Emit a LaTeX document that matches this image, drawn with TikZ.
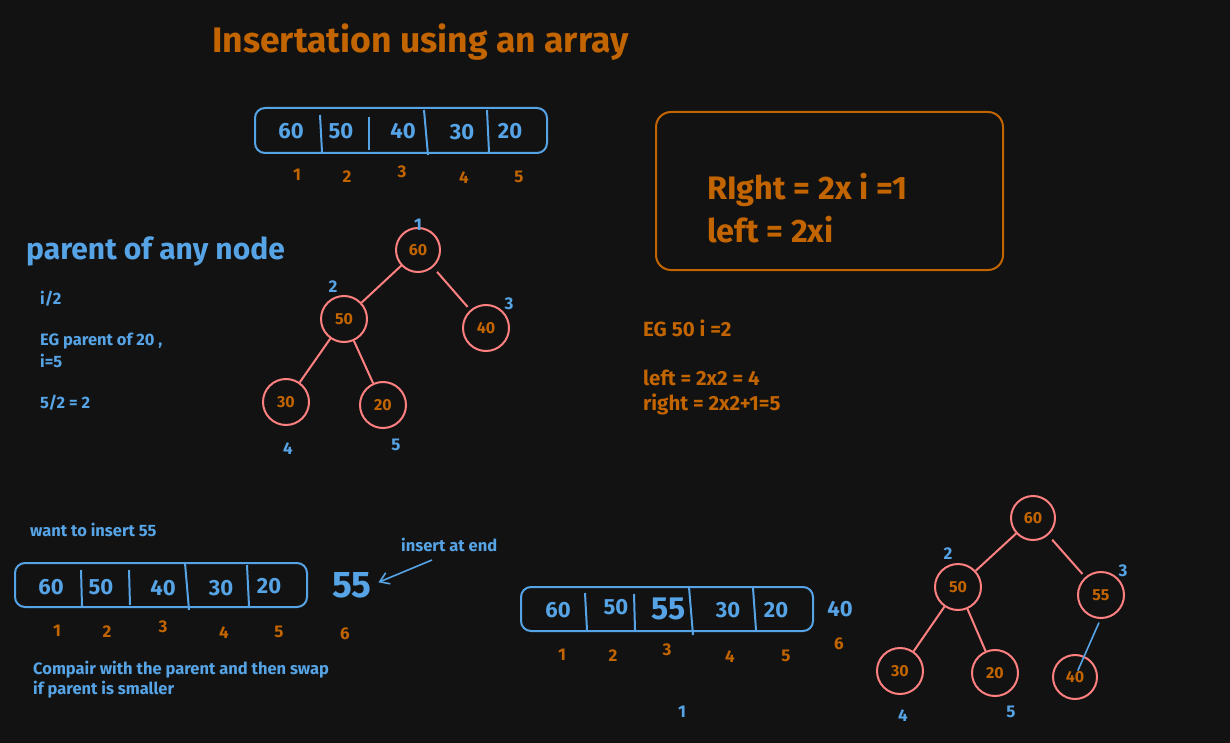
\documentclass[tikz,border=0pt]{standalone}
\usepackage{fontspec}
\setmainfont{Fira Sans}
\usetikzlibrary{arrows.meta}
\definecolor{bg}{HTML}{121212}
\definecolor{org}{HTML}{C26400}
\definecolor{blu}{HTML}{56A4E6}
\definecolor{pnk}{HTML}{FF8080}
\begin{document}
\begin{tikzpicture}[x=1pt,y=-1pt,
  every node/.style={inner sep=0pt},
  fs/.style={font=\bfseries\fontsize{#1}{#1}\selectfont},
  num/.style={fs=22,text=blu},
  idx/.style={fs=17,text=org},
  lbl/.style={fs=17,text=blu},
  txt/.style={fs=16.5,text=blu,anchor=west},
  otxt/.style={fs=20.5,text=org,anchor=west},
  arrbox/.style={draw=blu,line width=2pt,rounded corners=10pt},
  divl/.style={draw=blu,line width=2pt},
  cnode/.style={circle,draw=pnk,line width=2pt,minimum size=46pt,fs=16,text=org},
  edge/.style={draw=pnk,line width=2pt}
]
\fill[bg] (0,0) rectangle (1230,743);
\useasboundingbox (0,0) rectangle (1230,743);

% title
\node[fs=35.5,text=org,anchor=west] (title) at (212,42) {Insertation using an array};

% top array
\draw[arrbox] (255,108) rectangle (547,153);
\draw[divl] (320,115) -- (322,152);
\draw[divl] (369,117) -- (369,150);
\draw[divl] (424,110) -- (428,155);
\draw[divl] (487,110) -- (489,152);
\node[num] (a1) at (291,131) {60};
\node[num] (a2) at (341,131) {50};
\node[num] (a3) at (403,131) {40};
\node[num] (a4) at (462,132) {30};
\node[num] (a5) at (510,131) {20};
\node[idx] (i1) at (297,175) {1};
\node[idx] (i2) at (347,177) {2};
\node[idx] (i3) at (402,172) {3};
\node[idx] (i4) at (464,178) {4};
\node[idx] (i5) at (519,177) {5};

% formula box
\draw[draw=org,line width=2pt,rounded corners=15pt] (656,112) rectangle (1003,270);
\node[fs=32.5,text=org,anchor=west] (r1) at (707,190) {RIght = 2x i =1};
\node[fs=32.5,text=org,anchor=west] (r2) at (707,230) {left = 2xi};

\node[otxt] (eg) at (643,328) {EG 50 i =2};
\node[otxt] (lf) at (643,378) {left = 2x2 = 4};
\node[otxt] (rt) at (643,404) {right = 2x2+1=5};

% parent text
\node[fs=30,text=blu,anchor=west] (par) at (26,251) {parent of any node};
\node[txt] (p1) at (40,299) {i/2};
\node[txt] (p2) at (40,341) {EG parent of 20 ,};
\node[txt] (p3) at (40,361) {i=5};
\node[txt] (p4) at (40,403) {5/2 = 2};

% tree 1
\node[cnode,minimum size=44pt] (t60) at (418,250) {60};
\node[cnode] (t50) at (344,319) {50};
\node[cnode] (t40) at (486,328) {40};
\node[cnode] (t30) at (286,402) {30};
\node[cnode] (t20) at (383,405) {20};
\draw[edge] (t60) -- (t50);
\draw[edge,shorten <=6pt,shorten >=4pt] (t60) -- (t40);
\draw[edge] (t50) -- (t30);
\draw[edge] (t50) -- (t20);
\node[lbl] (l1) at (418,225) {1};
\node[lbl] (l2) at (333,287) {2};
\node[lbl] (l3) at (509,304) {3};
\node[lbl] (l4) at (288,449) {4};
\node[lbl] (l5) at (396,445) {5};

% bottom left
\node[txt] (want) at (30,530) {want to insert 55};
\draw[arrbox] (15,563) rectangle (307,607);
\draw[divl] (81,570) -- (82,606);
\draw[divl] (129,570) -- (130,605);
\draw[divl] (185,563) -- (189,610);
\draw[divl] (247,565) -- (249,606);
\node[num] (b1) at (51,587) {60};
\node[num] (b2) at (101,587) {50};
\node[num] (b3) at (163,588) {40};
\node[num] (b4) at (221,588) {30};
\node[num] (b5) at (269,586) {20};
\node[idx] (j1) at (57,631) {1};
\node[idx] (j2) at (107,632) {2};
\node[idx] (j3) at (163,627) {3};
\node[idx] (j4) at (224,633) {4};
\node[idx] (j5) at (279,632) {5};
\node[idx] (j6) at (345,634) {6};
\node[fs=37,text=blu] (b55) at (352,585) {55};
\node[txt] (ins) at (401,545) {insert at end};
\coordinate (insa) at (432,560);
\draw[blu,line width=1.6pt,shorten >=7pt,-{Straight Barb[length=9pt,width=12pt]}] (insa) -- (b55.east);
\node[txt] (c1) at (33,670) {Compair with the parent and then swap};
\node[txt] (c2) at (33,690) {if parent is smaller};

% bottom middle array
\draw[arrbox] (521,587) rectangle (813,631);
\draw[divl] (585,593) -- (587,630);
\draw[divl] (634,594) -- (635,630);
\draw[divl] (689,587) -- (693,635);
\draw[divl] (753,588) -- (756,630);
\node[num] (m1) at (558,610) {60};
\node[num] (m2) at (616,607) {50};
\node[fs=32,text=blu] (m3) at (669,609) {55};
\node[num] (m4) at (728,610) {30};
\node[num] (m5) at (776,610) {20};
\node[num] (m6) at (840,609) {40};
\node[idx] (k1) at (562,655) {1};
\node[idx] (k2) at (613,656) {2};
\node[idx] (k3) at (667,650) {3};
\node[idx] (k4) at (730,657) {4};
\node[idx] (k5) at (786,656) {5};
\node[idx] (k6) at (839,644) {6};
\node[lbl] (one) at (682,712) {1};

% tree 2
\node[cnode,minimum size=44pt] (u60) at (1033,518) {60};
\node[cnode] (u50) at (958,587) {50};
\node[cnode] (u55) at (1101,595) {55};
\node[cnode] (u30) at (900,671) {30};
\node[cnode] (u20) at (995,673) {20};
\node[cnode,minimum size=44pt] (u40) at (1075,677) {40};
\draw[edge] (u60) -- (u50);
\draw[edge,shorten <=6pt,shorten >=4pt] (u60) -- (u55);
\draw[edge] (u50) -- (u30);
\draw[edge] (u50) -- (u20);
\draw[blu,line width=1.6pt,shorten <=5pt,shorten >=7pt] (u55.center) ++(0,23) coordinate (s55) (s55) -- (u40.center);
\node[lbl] (v2) at (948,554) {2};
\node[lbl] (v3) at (1123,571) {3};
\node[lbl] (v4) at (903,716) {4};
\node[lbl] (v5) at (1011,712) {5};
\end{tikzpicture}
\end{document}
